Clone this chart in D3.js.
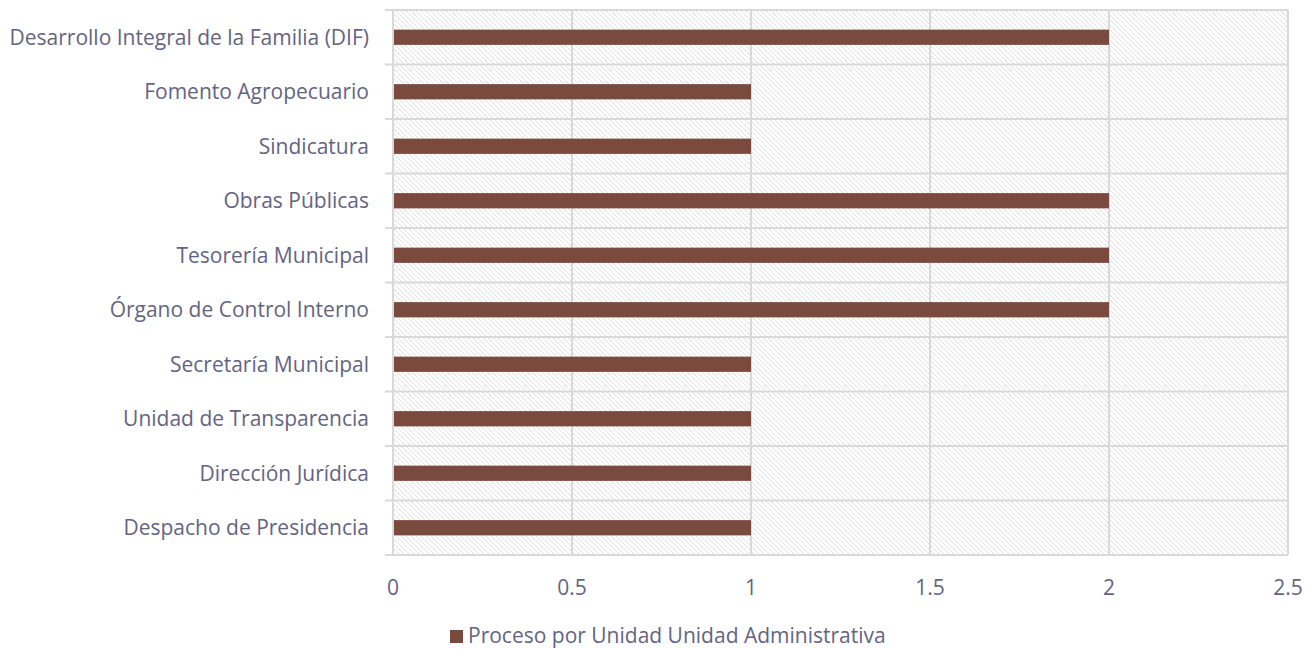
<!DOCTYPE html>
<html><head><meta charset="utf-8">
<script src="https://cdn.jsdelivr.net/npm/d3@7"></script>
<style>body{margin:0;background:#fff}svg{display:block}</style>
</head><body>
<svg id="c" width="1305" height="649"></svg>
<script>
const categories = ["Desarrollo Integral de la Familia (DIF)","Fomento Agropecuario","Sindicatura","Obras Públicas","Tesorería Municipal","Órgano de Control Interno","Secretaría Municipal","Unidad de Transparencia","Dirección Jurídica","Despacho de Presidencia"];
const values = [2,1,1,2,2,2,1,1,1,1];
const xTicks = [0,0.5,1,1.5,2,2.5];
const seriesName = "Proceso por Unidad Unidad Administrativa";

const svg = d3.select("#c");
const m = {l:393, r:1288, t:10, b:555};
const txt = "#646482", grid = "#d9d9d9", barC = "#7b4a3f";
const font = "'Open Sans', sans-serif";
const fs = 21;

const defs = svg.append("defs");
const pat = defs.append("pattern").attr("id","hatch").attr("patternUnits","userSpaceOnUse")
  .attr("width",5).attr("height",5);
pat.append("path").attr("d","M-1,-1 L6,6 M-1,4 L1,6 M4,-1 L6,1").attr("stroke","#e0e0e0").attr("stroke-width",1);

const x = d3.scaleLinear().domain([0,2.5]).range([m.l,m.r]);
const y = d3.scaleBand().domain(categories).range([m.t,m.b]).paddingInner(0.72).paddingOuter(0.36);
const yb = d3.scaleBand().domain(categories).range([m.t,m.b]);

svg.append("rect").attr("x",m.l).attr("y",m.t).attr("width",m.r-m.l).attr("height",m.b-m.t).attr("fill","url(#hatch)");

const hb = categories.map(c=>yb(c)).concat([m.b]);
svg.append("g").selectAll("line").data(hb).join("line")
  .attr("x1",m.l-8).attr("x2",m.r).attr("y1",d=>d).attr("y2",d=>d)
  .attr("stroke",grid).attr("stroke-width",2);

svg.append("g").selectAll("line").data(xTicks).join("line")
  .attr("x1",d=>x(d)).attr("x2",d=>x(d)).attr("y1",m.t).attr("y2",m.b)
  .attr("stroke",grid).attr("stroke-width",2);

svg.append("g").selectAll("rect").data(values).join("rect")
  .attr("x",x(0)+1).attr("y",(d,i)=>y(categories[i]))
  .attr("width",d=>x(d)-x(0)-1).attr("height",y.bandwidth())
  .attr("fill",barC);

svg.append("g").selectAll("text").data(categories).join("text")
  .attr("x",369).attr("y",d=>yb(d)+yb.bandwidth()/2).attr("dy","0.35em")
  .attr("text-anchor","end").attr("fill",txt).attr("font-family",font).attr("font-size",fs)
  .text(d=>d);

svg.append("g").selectAll("text").data(xTicks).join("text")
  .attr("x",d=>x(d)).attr("y",588).attr("dy","0.35em")
  .attr("text-anchor","middle").attr("fill",txt).attr("font-family",font).attr("font-size",fs)
  .text(d=>d3.format("")(d));

const lg = svg.append("g").attr("transform","translate(450,636)");
lg.append("rect").attr("x",0).attr("y",-6).attr("width",13).attr("height",13).attr("fill",barC);
lg.append("text").attr("x",18).attr("y",0).attr("dy","0.35em").attr("fill",txt)
  .attr("font-family",font).attr("font-size",fs).text(seriesName);
</script>
</body></html>
